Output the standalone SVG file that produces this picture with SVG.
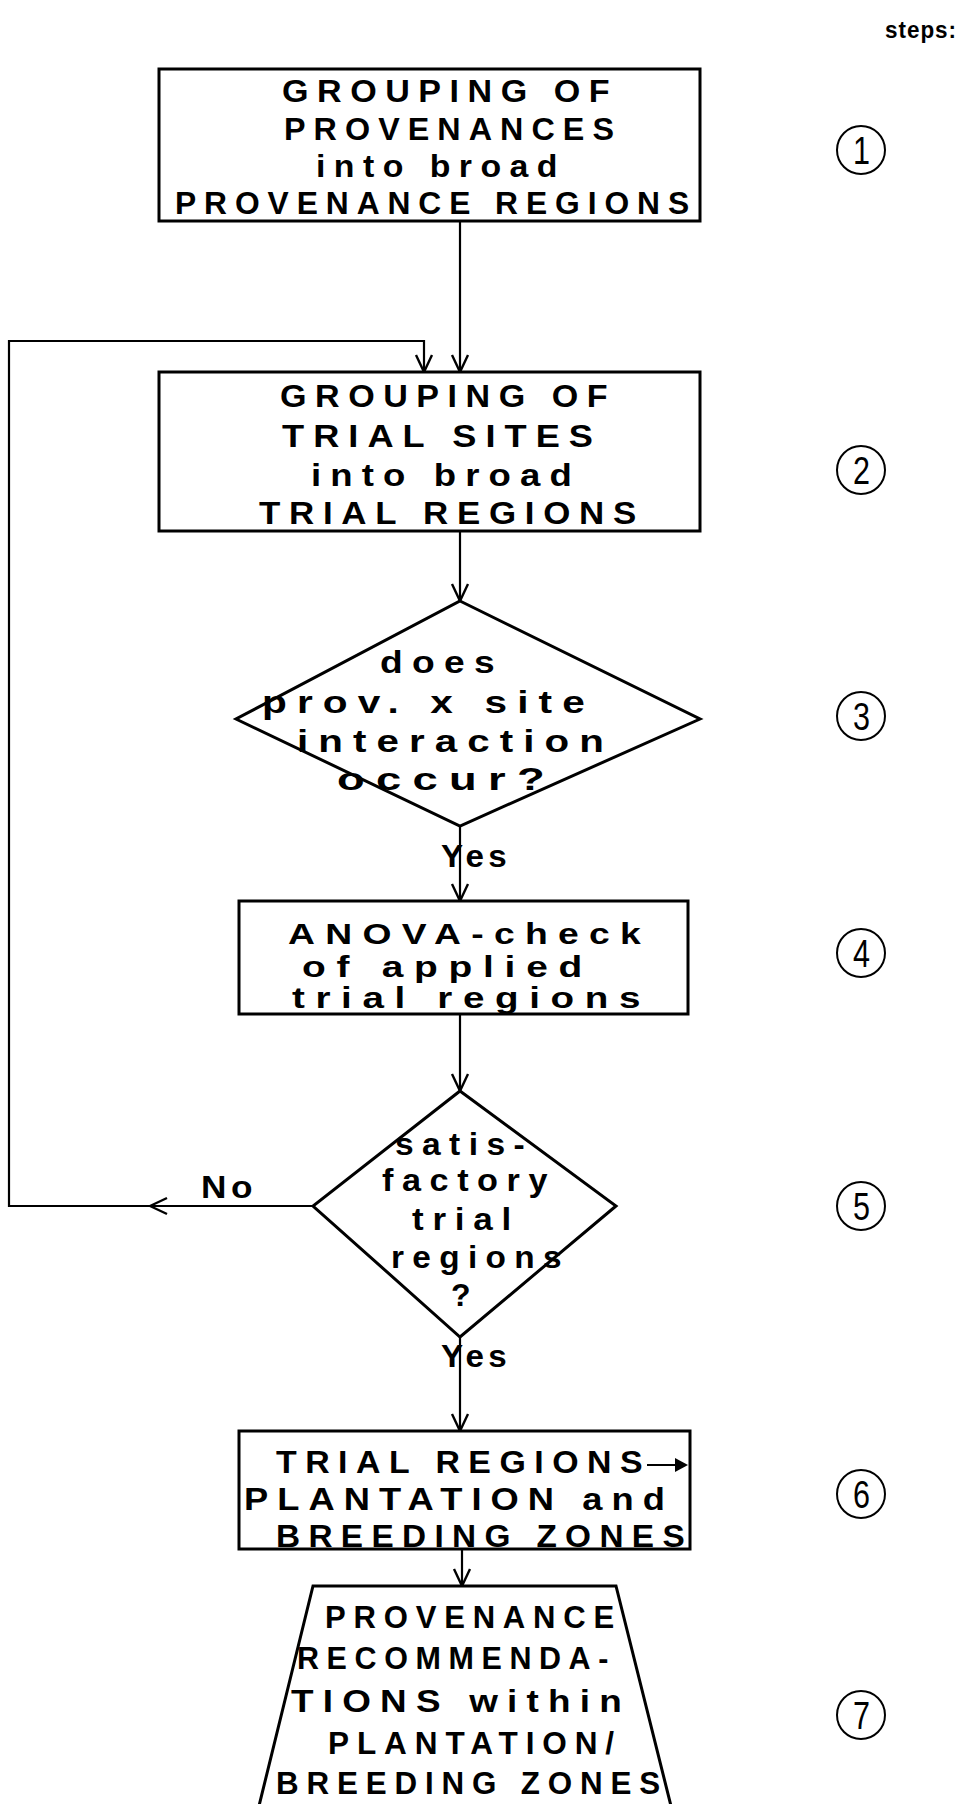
<svg xmlns="http://www.w3.org/2000/svg" width="961" height="1804" viewBox="0 0 961 1804">
<defs>
<style>
.t{font-family:"Liberation Sans",Arial,sans-serif;font-size:32px;font-weight:bold;letter-spacing:8px;fill:#000;}
.t4{font-size:29px;}
.y{font-family:"Liberation Sans",Arial,sans-serif;font-size:31px;font-weight:bold;letter-spacing:4px;fill:#000;}
.s{font-family:"Liberation Sans",Arial,sans-serif;font-size:23px;font-weight:bold;letter-spacing:1px;fill:#000;}
.n{font-family:"Liberation Sans",Arial,sans-serif;font-size:38px;fill:#000;}
.shape{fill:#fff;stroke:#000;stroke-width:3;}
.c{fill:none;stroke:#000;stroke-width:2.2;}
.step{fill:none;stroke:#000;stroke-width:2;}
</style>
<marker id="ah" viewBox="0 0 20 20" refX="19" refY="10" markerWidth="20" markerHeight="20" markerUnits="userSpaceOnUse" orient="auto">
<path d="M2,2 L19,10 L2,18" fill="none" stroke="#000" stroke-width="2.4"/>
</marker>
</defs>
<rect width="961" height="1804" fill="#fff"/>
<text class="s" x="885" y="38" textLength="72" lengthAdjust="spacingAndGlyphs">steps:</text>

<g id="connectors">
<path class="c" d="M460,221 V372" marker-end="url(#ah)"/>
<path class="c" d="M460,531 V601" marker-end="url(#ah)"/>
<path class="c" d="M460,826 V901" marker-end="url(#ah)"/>
<path class="c" d="M460,1014 V1091" marker-end="url(#ah)"/>
<path class="c" d="M460,1337 V1431" marker-end="url(#ah)"/>
<path class="c" d="M462,1549 V1586" marker-end="url(#ah)"/>
<path class="c" d="M313,1206 H150" marker-end="url(#ah)"/>
<path class="c" d="M152,1206 H9 V341 H424 V372" marker-end="url(#ah)"/>
<text class="y" x="441" y="867" textLength="70" lengthAdjust="spacingAndGlyphs">Yes</text>
<text class="y" x="441" y="1367" textLength="70" lengthAdjust="spacingAndGlyphs">Yes</text>
<text class="y" x="201" y="1198" textLength="56" lengthAdjust="spacingAndGlyphs">No</text>
</g>

<g id="n1">
<rect class="shape" x="159" y="69" width="541" height="152"/>
<text class="t" x="282" y="102" textLength="336" lengthAdjust="spacingAndGlyphs">GROUPING OF</text>
<text class="t" x="284" y="140" textLength="338" lengthAdjust="spacingAndGlyphs">PROVENANCES</text>
<text class="t" x="316" y="177" textLength="250" lengthAdjust="spacingAndGlyphs">into broad</text>
<text class="t" x="175" y="214" textLength="522" lengthAdjust="spacingAndGlyphs">PROVENANCE REGIONS</text>
</g>

<g id="n2">
<rect class="shape" x="159" y="372" width="541" height="159"/>
<text class="t" x="280" y="407" textLength="336" lengthAdjust="spacingAndGlyphs">GROUPING OF</text>
<text class="t" x="282" y="447" textLength="320" lengthAdjust="spacingAndGlyphs">TRIAL SITES</text>
<text class="t" x="311" y="486" textLength="270" lengthAdjust="spacingAndGlyphs">into broad</text>
<text class="t" x="259" y="524" textLength="386" lengthAdjust="spacingAndGlyphs">TRIAL REGIONS</text>
</g>

<g id="n3">
<polygon class="shape" points="460,601 700,719 460,826 236,719"/>
<text class="t" x="380" y="673" textLength="124" lengthAdjust="spacingAndGlyphs">does</text>
<text class="t" x="262" y="713" textLength="333" lengthAdjust="spacingAndGlyphs">prov. x site</text>
<text class="t" x="297" y="752" textLength="317" lengthAdjust="spacingAndGlyphs">interaction</text>
<text class="t" x="337" y="790" textLength="219" lengthAdjust="spacingAndGlyphs">occur?</text>
</g>

<g id="n4">
<rect class="shape" x="239" y="901" width="449" height="113"/>
<text class="t t4" x="288" y="944" textLength="363" lengthAdjust="spacingAndGlyphs">ANOVA-check</text>
<text class="t t4" x="302" y="977" textLength="291" lengthAdjust="spacingAndGlyphs">of applied</text>
<text class="t t4" x="292" y="1008" textLength="359" lengthAdjust="spacingAndGlyphs">trial regions</text>
</g>

<g id="n5">
<polygon class="shape" points="460,1091 616,1206 460,1337 313,1206"/>
<text class="t" x="395" y="1155" textLength="138" lengthAdjust="spacingAndGlyphs">satis-</text>
<text class="t" x="382" y="1191" textLength="174" lengthAdjust="spacingAndGlyphs">factory</text>
<text class="t" x="412" y="1230" textLength="108" lengthAdjust="spacingAndGlyphs">trial</text>
<text class="t" x="391" y="1268" textLength="179" lengthAdjust="spacingAndGlyphs">regions</text>
<text class="t" x="451" y="1306" style="letter-spacing:0">?</text>
</g>

<g id="n6">
<rect class="shape" x="239" y="1431" width="451" height="118"/>
<text class="t" x="276" y="1473" textLength="375" lengthAdjust="spacingAndGlyphs">TRIAL REGIONS</text>
<path d="M647,1465 H684" class="c"/>
<path d="M675,1458 L688,1465 L675,1472 Z" fill="#000"/>
<text class="t" x="244" y="1510" textLength="430" lengthAdjust="spacingAndGlyphs">PLANTATION and</text>
<text class="t" x="276" y="1547" textLength="417" lengthAdjust="spacingAndGlyphs">BREEDING ZONES</text>
</g>

<g id="n7">
<polygon class="shape" points="313,1586 616,1586 672,1810 258,1810"/>
<text class="t" x="325" y="1628" textLength="297" lengthAdjust="spacingAndGlyphs">PROVENANCE</text>
<text class="t" x="297" y="1669" textLength="319" lengthAdjust="spacingAndGlyphs">RECOMMENDA-</text>
<text class="t" x="291" y="1712" textLength="340" lengthAdjust="spacingAndGlyphs">TIONS within</text>
<text class="t" x="328" y="1754" textLength="294" lengthAdjust="spacingAndGlyphs">PLANTATION/</text>
<text class="t" x="276" y="1794" textLength="392" lengthAdjust="spacingAndGlyphs">BREEDING ZONES</text>
</g>

<g id="steps">
<circle class="step" cx="861" cy="150" r="24"/><text class="n" x="853" y="164" textLength="17" lengthAdjust="spacingAndGlyphs">1</text>
<circle class="step" cx="861" cy="470" r="24"/><text class="n" x="853" y="484" textLength="17" lengthAdjust="spacingAndGlyphs">2</text>
<circle class="step" cx="861" cy="716" r="24"/><text class="n" x="853" y="730" textLength="17" lengthAdjust="spacingAndGlyphs">3</text>
<circle class="step" cx="861" cy="953" r="24"/><text class="n" x="853" y="967" textLength="17" lengthAdjust="spacingAndGlyphs">4</text>
<circle class="step" cx="861" cy="1206" r="24"/><text class="n" x="853" y="1220" textLength="17" lengthAdjust="spacingAndGlyphs">5</text>
<circle class="step" cx="861" cy="1494" r="24"/><text class="n" x="853" y="1508" textLength="17" lengthAdjust="spacingAndGlyphs">6</text>
<circle class="step" cx="861" cy="1715" r="24"/><text class="n" x="853" y="1729" textLength="17" lengthAdjust="spacingAndGlyphs">7</text>
</g>
</svg>
